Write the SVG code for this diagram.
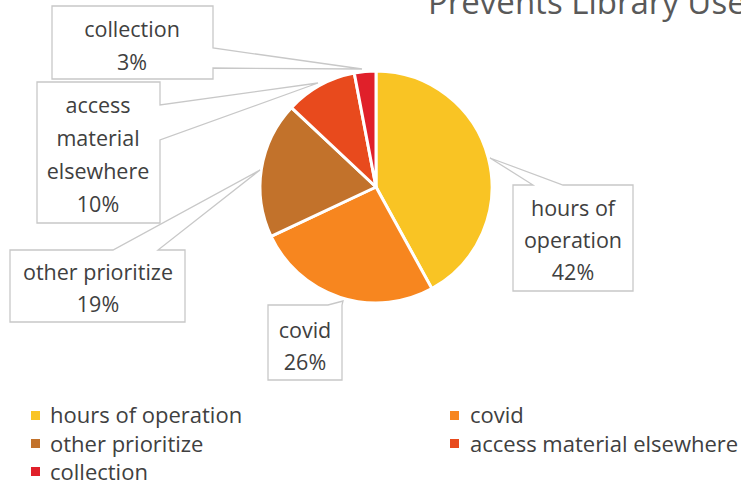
<svg xmlns="http://www.w3.org/2000/svg" width="741" height="494" viewBox="0 0 741 494">
<style>
text{font-family:"Open Sans","Noto Sans","Liberation Sans",sans-serif;fill:#404040}
.lbl{font-size:21.5px;text-anchor:middle}
.leg{font-size:22px}
.slice{stroke:#fff;stroke-width:3;stroke-linejoin:round}
.call{fill:#fff;stroke:#c8c8c8;stroke-width:1.3}
</style>
<rect width="741" height="494" fill="#fff"/>
<text id="title" x="428" y="14" style="font-size:33px;fill:#595959">Prevents Library Use</text>
<g id="pie">
<path class="slice" fill="#F9C424" d="M376,187 L376,71 A116,116 0 0 1 431.89,288.65 Z"/>
<path class="slice" fill="#F7861F" d="M376,187 L431.89,288.65 A116,116 0 0 1 271.04,236.39 Z"/>
<path class="slice" fill="#C2722B" d="M376,187 L271.04,236.39 A116,116 0 0 1 291.44,107.60 Z"/>
<path class="slice" fill="#E84A1D" d="M376,187 L291.44,107.60 A116,116 0 0 1 354.26,73.05 Z"/>
<path class="slice" fill="#E0202A" d="M376,187 L354.26,73.05 A116,116 0 0 1 376,71 Z"/>
</g>
<g id="connectors">
<path class="call" d="M52,6 H213 V48 L362,69 L213,68 V79 H52 Z"/>
<path class="call" d="M37,82 H160 V105 L318,83 L160,140 V223 H37 Z"/>
<path class="call" d="M10,250 H113 L260,170 L158,250 H185 V322 H10 Z"/>
<path class="call" d="M268,305 H328 L343,301 L342,305 V380 H268 Z"/>
<path class="call" d="M513,185 H533 L490,158 L563,185 H633 V291 H513 Z"/>
</g>
<g id="label-collection">
<text class="lbl" x="132" y="37">collection</text>
<text class="lbl" x="132" y="70">3%</text>
</g>
<g id="label-access">
<text class="lbl" x="98" y="113">access</text>
<text class="lbl" x="98" y="146">material</text>
<text class="lbl" x="98" y="179">elsewhere</text>
<text class="lbl" x="98" y="212">10%</text>
</g>
<g id="label-other">
<text class="lbl" x="98" y="280">other prioritize</text>
<text class="lbl" x="98" y="312">19%</text>
</g>
<g id="label-covid">
<text class="lbl" x="305" y="338">covid</text>
<text class="lbl" x="305" y="370">26%</text>
</g>
<g id="label-hours">
<text class="lbl" x="573" y="216">hours of</text>
<text class="lbl" x="573" y="248">operation</text>
<text class="lbl" x="573" y="280">42%</text>
</g>
<g id="legend">
<rect x="31" y="411" width="9" height="9" fill="#F9C424"/>
<text class="leg" x="50" y="423">hours of operation</text>
<rect x="31" y="439" width="9" height="9" fill="#C2722B"/>
<text class="leg" x="50" y="452">other prioritize</text>
<rect x="31" y="467" width="9" height="9" fill="#E0202A"/>
<text class="leg" x="50" y="480">collection</text>
<rect x="450" y="411" width="9" height="9" fill="#F7861F"/>
<text class="leg" x="470" y="423">covid</text>
<rect x="450" y="439" width="9" height="9" fill="#E84A1D"/>
<text class="leg" x="470" y="452">access material elsewhere</text>
</g>
</svg>
